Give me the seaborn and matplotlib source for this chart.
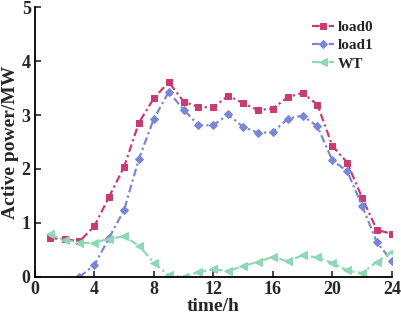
import matplotlib.pyplot as plt
import numpy as np
import pandas as pd
import seaborn as sns

hours = list(range(1, 25))
load0 = [0.72, 0.70, 0.66, 0.94, 1.49, 2.04, 2.86, 3.31, 3.61, 3.25, 3.15, 3.14,
         3.36, 3.22, 3.09, 3.12, 3.33, 3.41, 3.19, 2.43, 2.12, 1.47, 0.87, 0.80]
load1_hours = list(range(3, 25))
load1 = [0.0, 0.22, 0.73, 1.24, 2.19, 2.93, 3.43, 3.10, 2.81, 2.81, 3.01,
         2.78, 2.67, 2.68, 2.93, 2.99, 2.79, 2.16, 1.96, 1.32, 0.64, 0.30]
wt = [0.79, 0.69, 0.63, 0.63, 0.71, 0.75, 0.58, 0.26, 0.03, 0.0, 0.09, 0.14,
      0.11, 0.20, 0.28, 0.37, 0.29, 0.40, 0.36, 0.26, 0.12, 0.07, 0.28, 0.46]

sns.set_theme(style='ticks')
plt.rcParams['font.family'] = ['Liberation Serif', 'DejaVu Serif']
plt.rcParams['font.weight'] = 'bold'
plt.rcParams['xtick.direction'] = 'in'
plt.rcParams['ytick.direction'] = 'in'

df = pd.concat([
    pd.DataFrame({'h': hours, 'p': load0, 'name': 'load0'}),
    pd.DataFrame({'h': load1_hours, 'p': load1, 'name': 'load1'}),
    pd.DataFrame({'h': hours, 'p': wt, 'name': 'WT'}),
])

colors = {'load0': '#C83C73', 'load1': '#7A87D6', 'WT': '#8ED8B4'}
marks = {'load0': 's', 'load1': 'D', 'WT': '<'}
msize = {'load0': 5, 'load1': 4, 'WT': 6}

fig = plt.figure(figsize=(4.01, 3.22), dpi=100)
ax = fig.add_axes([0.087, 0.14, 0.89, 0.838])

for name in ['load0', 'load1', 'WT']:
    sub = df[df['name'] == name]
    sns.lineplot(data=sub, x='h', y='p', ax=ax, color=colors[name],
                 marker=marks[name], markersize=msize[name],
                 markeredgecolor=colors[name], linestyle=(0, (3.5, 1.5, 1, 1.5)),
                 linewidth=1.6, label=name, clip_on=True)

ax.set_xlim(0, 24)
ax.set_ylim(0, 5)
ax.set_xticks([0, 4, 8, 12, 16, 20, 24])
ax.set_yticks([0, 1, 2, 3, 4, 5])
ax.tick_params(labelsize=13, length=4, width=1.2, pad=3)
for lbl in ax.get_xticklabels() + ax.get_yticklabels():
    lbl.set_fontweight('bold')
ax.set_xlabel('time/h', fontsize=14, fontweight='bold', labelpad=0)
ax.set_ylabel('Active power/MW', fontsize=14, fontweight='bold', labelpad=2)
sns.despine(ax=ax)
for s in ['left', 'bottom']:
    ax.spines[s].set_linewidth(1.3)
    ax.spines[s].set_color('black')

leg = ax.legend(loc='upper right', bbox_to_anchor=(0.98, 0.99), frameon=False,
                handlelength=1.4, handletextpad=0.3, labelspacing=0.3,
                borderaxespad=0.3, prop={'weight': 'bold', 'size': 11})

fig.savefig('out.png', dpi=100)
